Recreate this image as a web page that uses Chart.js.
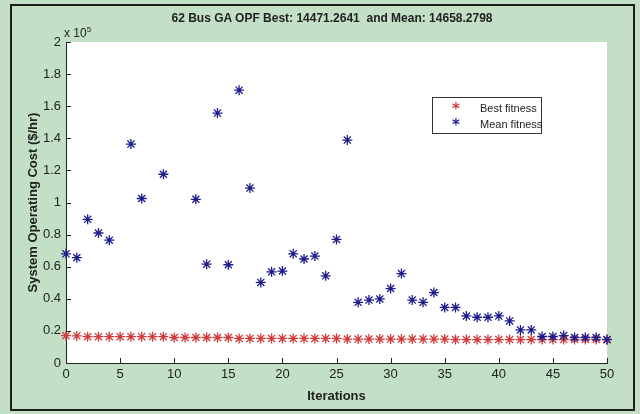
<!DOCTYPE html>
<html>
<head>
<meta charset="utf-8">
<script src="https://cdn.jsdelivr.net/npm/chart.js@4"></script>
<style>
  html, body { margin: 0; padding: 0; background: #c3dfc6; }
  #wrap { position: relative; width: 640px; height: 414px; }
  #frame { position: absolute; left: 10px; top: 4px; width: 621px; height: 403px;
           border: 2px solid #1e1e1e; pointer-events: none; }
  #title { position: absolute; left: 132px; width: 400px; top: 11px; text-align: center;
           font: bold 12px "Liberation Sans", sans-serif; color: #222; white-space: pre; }
  #expo { position: absolute; left: 64px; top: 25px; font: 12px "Liberation Sans", sans-serif; color: #222; }
  #expo sup { font-size: 8px; }
  #legend { position: absolute; left: 432px; top: 97px; width: 108px; height: 35px;
            border: 1px solid #333; background: #fff;
            font: 11px "Liberation Sans", sans-serif; color: #222; }
  .row { position: absolute; left: 0; height: 16px; line-height: 16px; }
  .mk { position: absolute; left: 19px; font: bold 15px "DejaVu Sans", sans-serif; }
  .lb { position: absolute; left: 47px; white-space: nowrap; }
</style>
</head>
<body>
<div id="wrap">
  <canvas id="chart" width="640" height="414"></canvas>
  <div id="title"></div>
  <div id="expo">x 10<sup>5</sup></div>
  <div id="legend">
    <div class="row" style="top:2px"><span class="mk" style="color:#d23a3a">*</span><span class="lb">Best fitness</span></div>
    <div class="row" style="top:18px"><span class="mk" style="color:#1c1c8c">*</span><span class="lb">Mean fitness</span></div>
  </div>
  <div id="frame"></div>
</div>
<script>
// GA OPF convergence — best / mean fitness per iteration

const iterations = Array.from({ length: 51 }, (_, i) => i);

const bestFitness = [
  17000, 16900, 16400, 16400, 16400, 16400, 16400, 16400, 16400, 16400,
  15900, 15900, 15900, 15900, 15900, 15900, 15300, 15300, 15300, 15300,
  15300, 15300, 15300, 15300, 15300, 15300, 14900, 14900, 14900, 14900,
  14900, 14900, 14900, 14900, 14900, 14900, 14600, 14600, 14600, 14600,
  14600, 14600, 14600, 14600, 14600, 14600, 14600, 14600, 14600, 14600,
  14471
];

// null = off the top of the axis in the original figure
const meanFitness = [
  68000, 65600, 89500, 81000, 76500, null, 136400, 102500, null, 117600,
  null, null, 102000, 61600, 155700, 61200, 170000, 109000, 50200, 56800,
  57300, 68000, 64800, 66600, 54300, 77000, 138900, 37800, 39200, 39900,
  46400, 55700, 39200, 37800, 43900, 34600, 34600, 29300, 28500, 28500,
  29300, 26200, 20600, 20600, 16500, 16500, 17100, 15900, 15900, 15900,
  14658
];

const titleText = "62 Bus GA OPF Best: 14471.2641  and Mean: 14658.2798";
const FONT = "'Liberation Sans', sans-serif";

document.getElementById("title").textContent = titleText;

// ─── Plugins ──────────────────────────────────────────────────────────────────
const whiteArea = {
  id: "whiteArea",
  beforeDraw(chart) {
    const { ctx, chartArea: a } = chart;
    ctx.save();
    ctx.fillStyle = "#fff";
    ctx.fillRect(a.left, a.top, a.right - a.left, a.bottom - a.top);
    ctx.restore();
  }
};

// MATLAB style ticks pointing into the plot
const innerTicks = {
  id: "innerTicks",
  afterDraw(chart) {
    const { ctx, chartArea: a, scales } = chart;
    ctx.save();
    ctx.strokeStyle = "#222";
    ctx.lineWidth = 1;
    ctx.beginPath();
    scales.x.ticks.forEach(t => {
      const px = Math.round(scales.x.getPixelForValue(t.value)) + 0.5;
      ctx.moveTo(px, a.bottom);
      ctx.lineTo(px, a.bottom - 5);
    });
    scales.y.ticks.forEach(t => {
      const py = Math.round(scales.y.getPixelForValue(t.value)) + 0.5;
      ctx.moveTo(a.left, py);
      ctx.lineTo(a.left + 5, py);
    });
    ctx.stroke();
    ctx.restore();
  }
};

// ─── Chart ────────────────────────────────────────────────────────────────────
const toPoints = arr => iterations.map((x, i) => ({ x, y: arr[i] }));

new Chart(document.getElementById("chart"), {
  type: "scatter",
  data: {
    datasets: [
      {
        label: "Mean fitness",
        data: toPoints(meanFitness),
        pointStyle: "star",
        pointRadius: 5,
        borderColor: "#1c1c8c",
        borderWidth: 1.3,
        clip: false,
      },
      {
        label: "Best fitness",
        data: toPoints(bestFitness),
        pointStyle: "star",
        pointRadius: 5,
        borderColor: "#d23a3a",
        borderWidth: 1.3,
        clip: false,
      },
    ]
  },
  options: {
    responsive: false,
    animation: false,
    layout: { padding: { left: 26, right: 33, top: 42, bottom: 10 } },
    plugins: {
      legend: { display: false },
      tooltip: { enabled: false },
    },
    scales: {
      x: {
        type: "linear",
        min: 0, max: 50,
        ticks: { stepSize: 5, color: "#222", padding: 4, font: { family: FONT, size: 13 } },
        grid: { display: false, drawTicks: false },
        border: { display: true, color: "#222", width: 1 },
        title: { display: true, text: "Iterations", color: "#222",
                 font: { family: FONT, size: 13, weight: "bold" }, padding: { top: 4, bottom: 0 } },
        afterFit: s => { s.height = 41; },
      },
      y: {
        min: 0, max: 200000,
        ticks: {
          stepSize: 20000, color: "#222", padding: 5,
          font: { family: FONT, size: 13 },
          callback: v => String(Number((v / 1e5).toFixed(1))),
        },
        grid: { display: false, drawTicks: false },
        border: { display: true, color: "#222", width: 1 },
        title: { display: true, text: "System Operating Cost ($/hr)", color: "#222",
                 font: { family: FONT, size: 13, weight: "bold" }, padding: { top: 0, bottom: 4 } },
        afterFit: s => { s.width = 40; },
      },
    }
  },
  plugins: [whiteArea, innerTicks]
});
</script>
</body>
</html>
